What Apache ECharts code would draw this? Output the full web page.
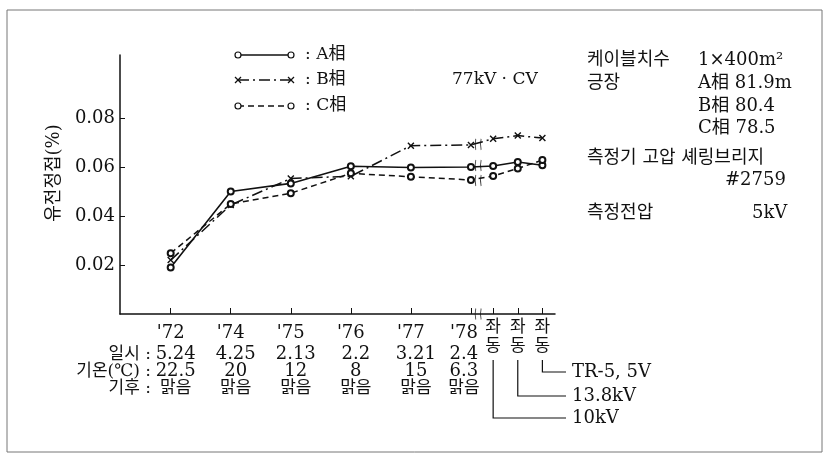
<!DOCTYPE html>
<html><head><meta charset="utf-8">
<script src="https://cdn.jsdelivr.net/npm/echarts@6/dist/echarts.min.js"></script>
<style>html,body{margin:0;padding:0;background:#fff}#c{width:829px;height:460px}</style>
</head><body><div id="c"></div>
<script>
// ---- data ----
const categories = ["'72", "'74", "'75", "'76", "'77", "'78", "좌동", "좌동", "좌동"];
const xPos = [0, 1, 2, 3, 4, 5, 5.37, 5.78, 6.19];
const seriesA = [0.0190, 0.0500, 0.0533, 0.0603, 0.0598, 0.0600, 0.0604, 0.0620, 0.0607];
const seriesB = [0.0220, 0.0445, 0.0553, 0.0562, 0.0687, 0.0690, 0.0715, 0.0728, 0.0718];
const seriesC = [0.0248, 0.0449, 0.0493, 0.0574, 0.0560, 0.0547, 0.0563, 0.0594, 0.0628];
const dates = ['5.24', '4.25', '2.13', '2.2', '3.21', '2.4'];
const temps = ['22.5', '20', '12', '8', '15', '6.3'];
const weather = ['맑음', '맑음', '맑음', '맑음', '맑음', '맑음'];
const yTicks = [0.02, 0.04, 0.06, 0.08];
const breakX = 5.12;
const breakVals = [0, 0.0606, 0.0692, 0.0545];
const voltNotes = ['10kV', '13.8kV', 'TR-5, 5V'];

const FONT = "'DejaVu Serif', 'Noto Sans CJK KR', serif";
const INK = '#111';

const chart = echarts.init(document.getElementById('c'), null, {renderer: 'canvas'});

function pts(vals) { return vals.map((v, i) => [xPos[i], v]); }

const xSym = 'path://M0,0L10,10M10,0L0,10';

const option = {
  animation: false,
  backgroundColor: '#fff',
  textStyle: {fontFamily: FONT, color: INK},
  grid: {left: 120, right: 274, top: 55, bottom: 146},
  xAxis: {
    type: 'value', min: -0.844, max: 6.40,
    axisLine: {show: true, onZero: false, lineStyle: {color: INK, width: 1.5}},
    splitLine: {show: false},
    axisTick: {show: true, inside: true, length: 6, customValues: xPos, lineStyle: {color: INK}},
    axisLabel: {
      show: true, customValues: xPos, margin: 6, color: INK, fontFamily: FONT, hideOverlap: false,
      formatter: function (v) {
        let i = xPos.findIndex(p => Math.abs(p - v) < 1e-6);
        if (i < 0) return '';
        if (i < 5) {
          return '{y|' + categories[i] + '}\n{d|' + dates[i] + '}\n{d|' + temps[i] + '}\n{k|' + weather[i] + '}';
        }
        if (i === 5) {
          return '{yl|' + categories[i] + '}\n{dl|' + dates[i] + '}\n{dl|' + temps[i] + '}\n{kl|' + weather[i] + '}';
        }
        return '{j|' + categories[i].charAt(0) + '}\n{j2|' + categories[i].charAt(1) + '}';
      },
      rich: {
        y: {fontSize: 18, lineHeight: 26, fontFamily: FONT, color: INK},
        d: {fontSize: 18, lineHeight: 17, fontFamily: FONT, color: INK, padding: [0, 0, 0, 10]},
        k: {fontSize: 17, lineHeight: 17, fontFamily: FONT, color: INK, padding: [0, 0, 0, 10]},
        yl: {fontSize: 18, lineHeight: 26, fontFamily: FONT, color: INK, padding: [0, 14, 0, 0]},
        dl: {fontSize: 18, lineHeight: 17, fontFamily: FONT, color: INK, padding: [0, 14, 0, 0]},
        kl: {fontSize: 17, lineHeight: 17, fontFamily: FONT, color: INK, padding: [0, 14, 0, 0]},
        j: {fontSize: 17, lineHeight: 15, fontFamily: FONT, color: INK},
        j2: {fontSize: 17, lineHeight: 23, fontFamily: FONT, color: INK}
      }
    }
  },
  yAxis: {
    type: 'value', min: 0, max: 0.1057,
    axisLine: {show: true, onZero: false, lineStyle: {color: INK, width: 1.5}},
    splitLine: {show: false},
    axisTick: {show: true, inside: true, length: 5, customValues: yTicks, lineStyle: {color: INK}},
    axisLabel: {show: true, customValues: yTicks, margin: 5, fontSize: 18, color: INK, fontFamily: FONT,
      formatter: v => v.toFixed(2)}
  },
  series: [
    {name: 'A相', type: 'line', data: pts(seriesA), symbol: 'emptyCircle', symbolSize: 6,
      lineStyle: {color: INK, width: 1.6, type: 'solid'}, itemStyle: {color: INK, borderWidth: 1.2}, z: 3},
    {name: 'B相', type: 'line', data: pts(seriesB), symbol: xSym, symbolSize: 6,
      lineStyle: {color: INK, width: 1.5, type: [11, 4, 2, 4]},
      itemStyle: {color: 'none', borderColor: INK, borderWidth: 1.4}, z: 2},
    {name: 'C相', type: 'line', data: pts(seriesC), symbol: 'emptyCircle', symbolSize: 6,
      lineStyle: {color: INK, width: 1.5, type: [6, 4]}, itemStyle: {color: INK, borderWidth: 1.2}, z: 3},
    {name: 'break', type: 'scatter', data: breakVals.map(v => [breakX, v]),
      symbol: 'path://M1,0Q0,5 1,10M5,0Q4,5 5,10', symbolSize: [6, 11],
      itemStyle: {color: 'none', borderColor: INK, borderWidth: 1.2}, z: 5, silent: true}
  ]
};
chart.setOption(option);

// ---- annotation graphics ----
const g = [];
g.push({type: 'rect', shape: {x: 7, y: 10, width: 815, height: 442}, style: {fill: 'none', stroke: '#777', lineWidth: 1}, silent: true});
// legend
const legY = [55, 80, 106];
const legNames = [': A相', ': B相', ': C相'];
const legDash = [null, [11, 4, 2, 4], [6, 4]];
for (let i = 0; i < 3; i++) {
  g.push({type: 'line', shape: {x1: 238, y1: legY[i], x2: 291, y2: legY[i]},
    style: {stroke: INK, lineWidth: 1.3, lineDash: legDash[i]}});
  if (i === 1) {
    [238, 291].forEach(x => {
      g.push({type: 'line', shape: {x1: x - 3, y1: legY[i] - 3, x2: x + 3, y2: legY[i] + 3}, style: {stroke: INK, lineWidth: 1.3}});
      g.push({type: 'line', shape: {x1: x + 3, y1: legY[i] - 3, x2: x - 3, y2: legY[i] + 3}, style: {stroke: INK, lineWidth: 1.3}});
    });
  } else {
    [238, 291].forEach(x => g.push({type: 'circle', shape: {cx: x, cy: legY[i], r: 3}, style: {fill: '#fff', stroke: INK, lineWidth: 1.2}}));
  }
  g.push({type: 'text', x: 305, y: legY[i], style: {text: legNames[i], font: '17px ' + FONT, fill: INK, verticalAlign: 'middle'}});
}
g.push({type: 'text', x: 452, y: 80, style: {text: '77kV · CV', font: '17px ' + FONT, fill: INK, verticalAlign: 'middle'}});
// right info block
const info = [
  [587, 60, '케이블치수'], [698, 60, '1×400m²'],
  [587, 83, '긍장'], [698, 83, 'A相 81.9m'],
  [698, 106, 'B相 80.4'], [698, 128, 'C相 78.5'],
  [587, 158, '측정기 고압 셰링브리지'], [725, 180, '#2759'],
  [587, 213, '측정전압'], [752, 213, '5kV']
];
info.forEach(t => g.push({type: 'text', x: t[0], y: t[1], style: {text: t[2], font: '18px ' + FONT, fill: INK, verticalAlign: 'middle'}}));
// y axis name
g.push({type: 'text', x: 54, y: 173, rotation: Math.PI / 2,
  style: {text: '유전정접(%)', font: '18px ' + FONT, fill: INK, align: 'center', verticalAlign: 'middle'}});
// row headers
const rows = [[355, '일시 :'], [372, '기온(℃) :'], [389, '기후 :']];
rows.forEach(r => g.push({type: 'text', x: 151, y: r[0], style: {text: r[1], font: '17px ' + FONT, fill: INK, align: 'right', verticalAlign: 'middle'}}));
// voltage connectors
const connY = [418, 396, 372];
for (let k = 0; k < 3; k++) {
  const px = chart.convertToPixel({xAxisIndex: 0}, xPos[6 + k]);
  g.push({type: 'polyline', shape: {points: [[px, 360], [px, connY[k]], [566, connY[k]]]}, style: {fill: 'none', stroke: INK, lineWidth: 1.2}});
  g.push({type: 'text', x: 572, y: connY[k], style: {text: voltNotes[k], font: '18px ' + FONT, fill: INK, verticalAlign: 'middle'}});
}
chart.setOption({graphic: g});
</script></body></html>
